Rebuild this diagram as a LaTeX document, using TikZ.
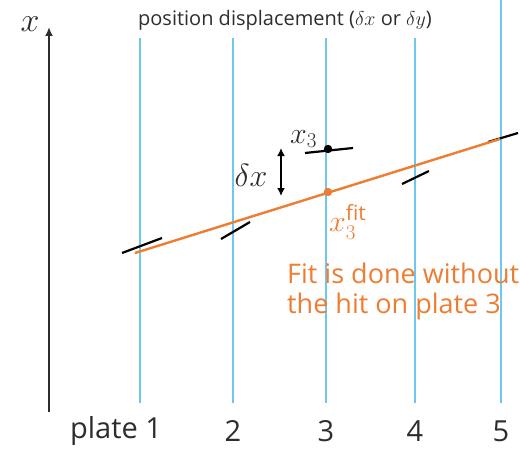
\documentclass[tikz,border=0pt]{standalone}
\usepackage{fix-cm}
\usepackage{fontspec}
\setmainfont{Open Sans}
\usetikzlibrary{arrows.meta}
\definecolor{platecyan}{RGB}{110,200,238}
\definecolor{fitorange}{RGB}{237,125,49}
\definecolor{inkgray}{RGB}{45,45,45}

\begin{document}
\begin{tikzpicture}[x=1pt, y=-1pt, >=Latex, inkgray,
    hit/.style={line width=2.2pt, black},
    bigmath/.style={font=\fontsize{30}{30}\selectfont}]
  \useasboundingbox (0,0) rectangle (520,452);
  % plates
  \foreach \px/\i in {140/1,233/2,326/3,415/4}
    \draw[platecyan, line width=2.2pt] (\px,38) coordinate (top\i) -- (\px,403) coordinate (bot\i);
  \draw[platecyan, line width=2.2pt] (501,0) coordinate (top5) -- (501,403) coordinate (bot5);
  % axis
  \coordinate (axbot) at (49,412);
  \coordinate (axtop) at (49,27);
  \draw[-{Latex[length=9pt,width=8pt]}, line width=2pt] (axbot) -- (axtop);
  \node[font=\fontsize{34}{34}\selectfont] (xlab) at (30,24) {$x$};
  \node[font=\fontsize{20}{22}\selectfont] (title) at (285,20) {position displacement ($\delta x$ or $\delta y$)};
  % plate labels
  \node[font=\fontsize{29}{30}\selectfont] (lab1) at (116,431) {plate 1};
  \foreach \i/\px in {2/233,3/326,4/415,5/501}
    \node[font=\fontsize{29}{30}\selectfont] (lab\i) at (\px,431) {\i};
  % hits
  \draw[hit] (122,253) -- (162,238);
  \draw[hit] (221,239) -- (250,222);
  \draw[hit] (305,153) -- (353,148);
  \draw[hit] (402,184) -- (429,171);
  \draw[hit] (488,142) -- (518,133);
  % fit
  \coordinate (fitstart) at (135,253);
  \coordinate (fitend) at (500,139);
  \draw[fitorange, line width=2.4pt] (fitstart) -- (fitend);
  \fill[black] (328,149) coordinate (hit3) circle (4.2pt);
  \fill[fitorange] (328,192) coordinate (fit3) circle (4.2pt);
  \node[bigmath, anchor=west, inner sep=0pt] (x3) at (290,139) {$x_3$};
  \node[bigmath, anchor=west, inner sep=0pt, fitorange] (x3fit) at (329,222) {$x_3^{\mathrm{fit}}$};
  % displacement
  \coordinate (dxtop) at (281,148);
  \coordinate (dxbot) at (281,196);
  \draw[{Latex[length=8pt,width=8pt]}-{Latex[length=8pt,width=8pt]}, line width=2pt, black] (dxtop) -- (dxbot);
  \node[font=\fontsize{32}{32}\selectfont] (dx) at (251,175) {$\delta x$};
  % note
  \node[anchor=north west, align=left, fitorange, inner sep=0pt,
        font=\fontsize{27}{30}\selectfont] (note) at (287,263)
    {Fit is done without\\the hit on plate 3};
\end{tikzpicture}
\end{document}
